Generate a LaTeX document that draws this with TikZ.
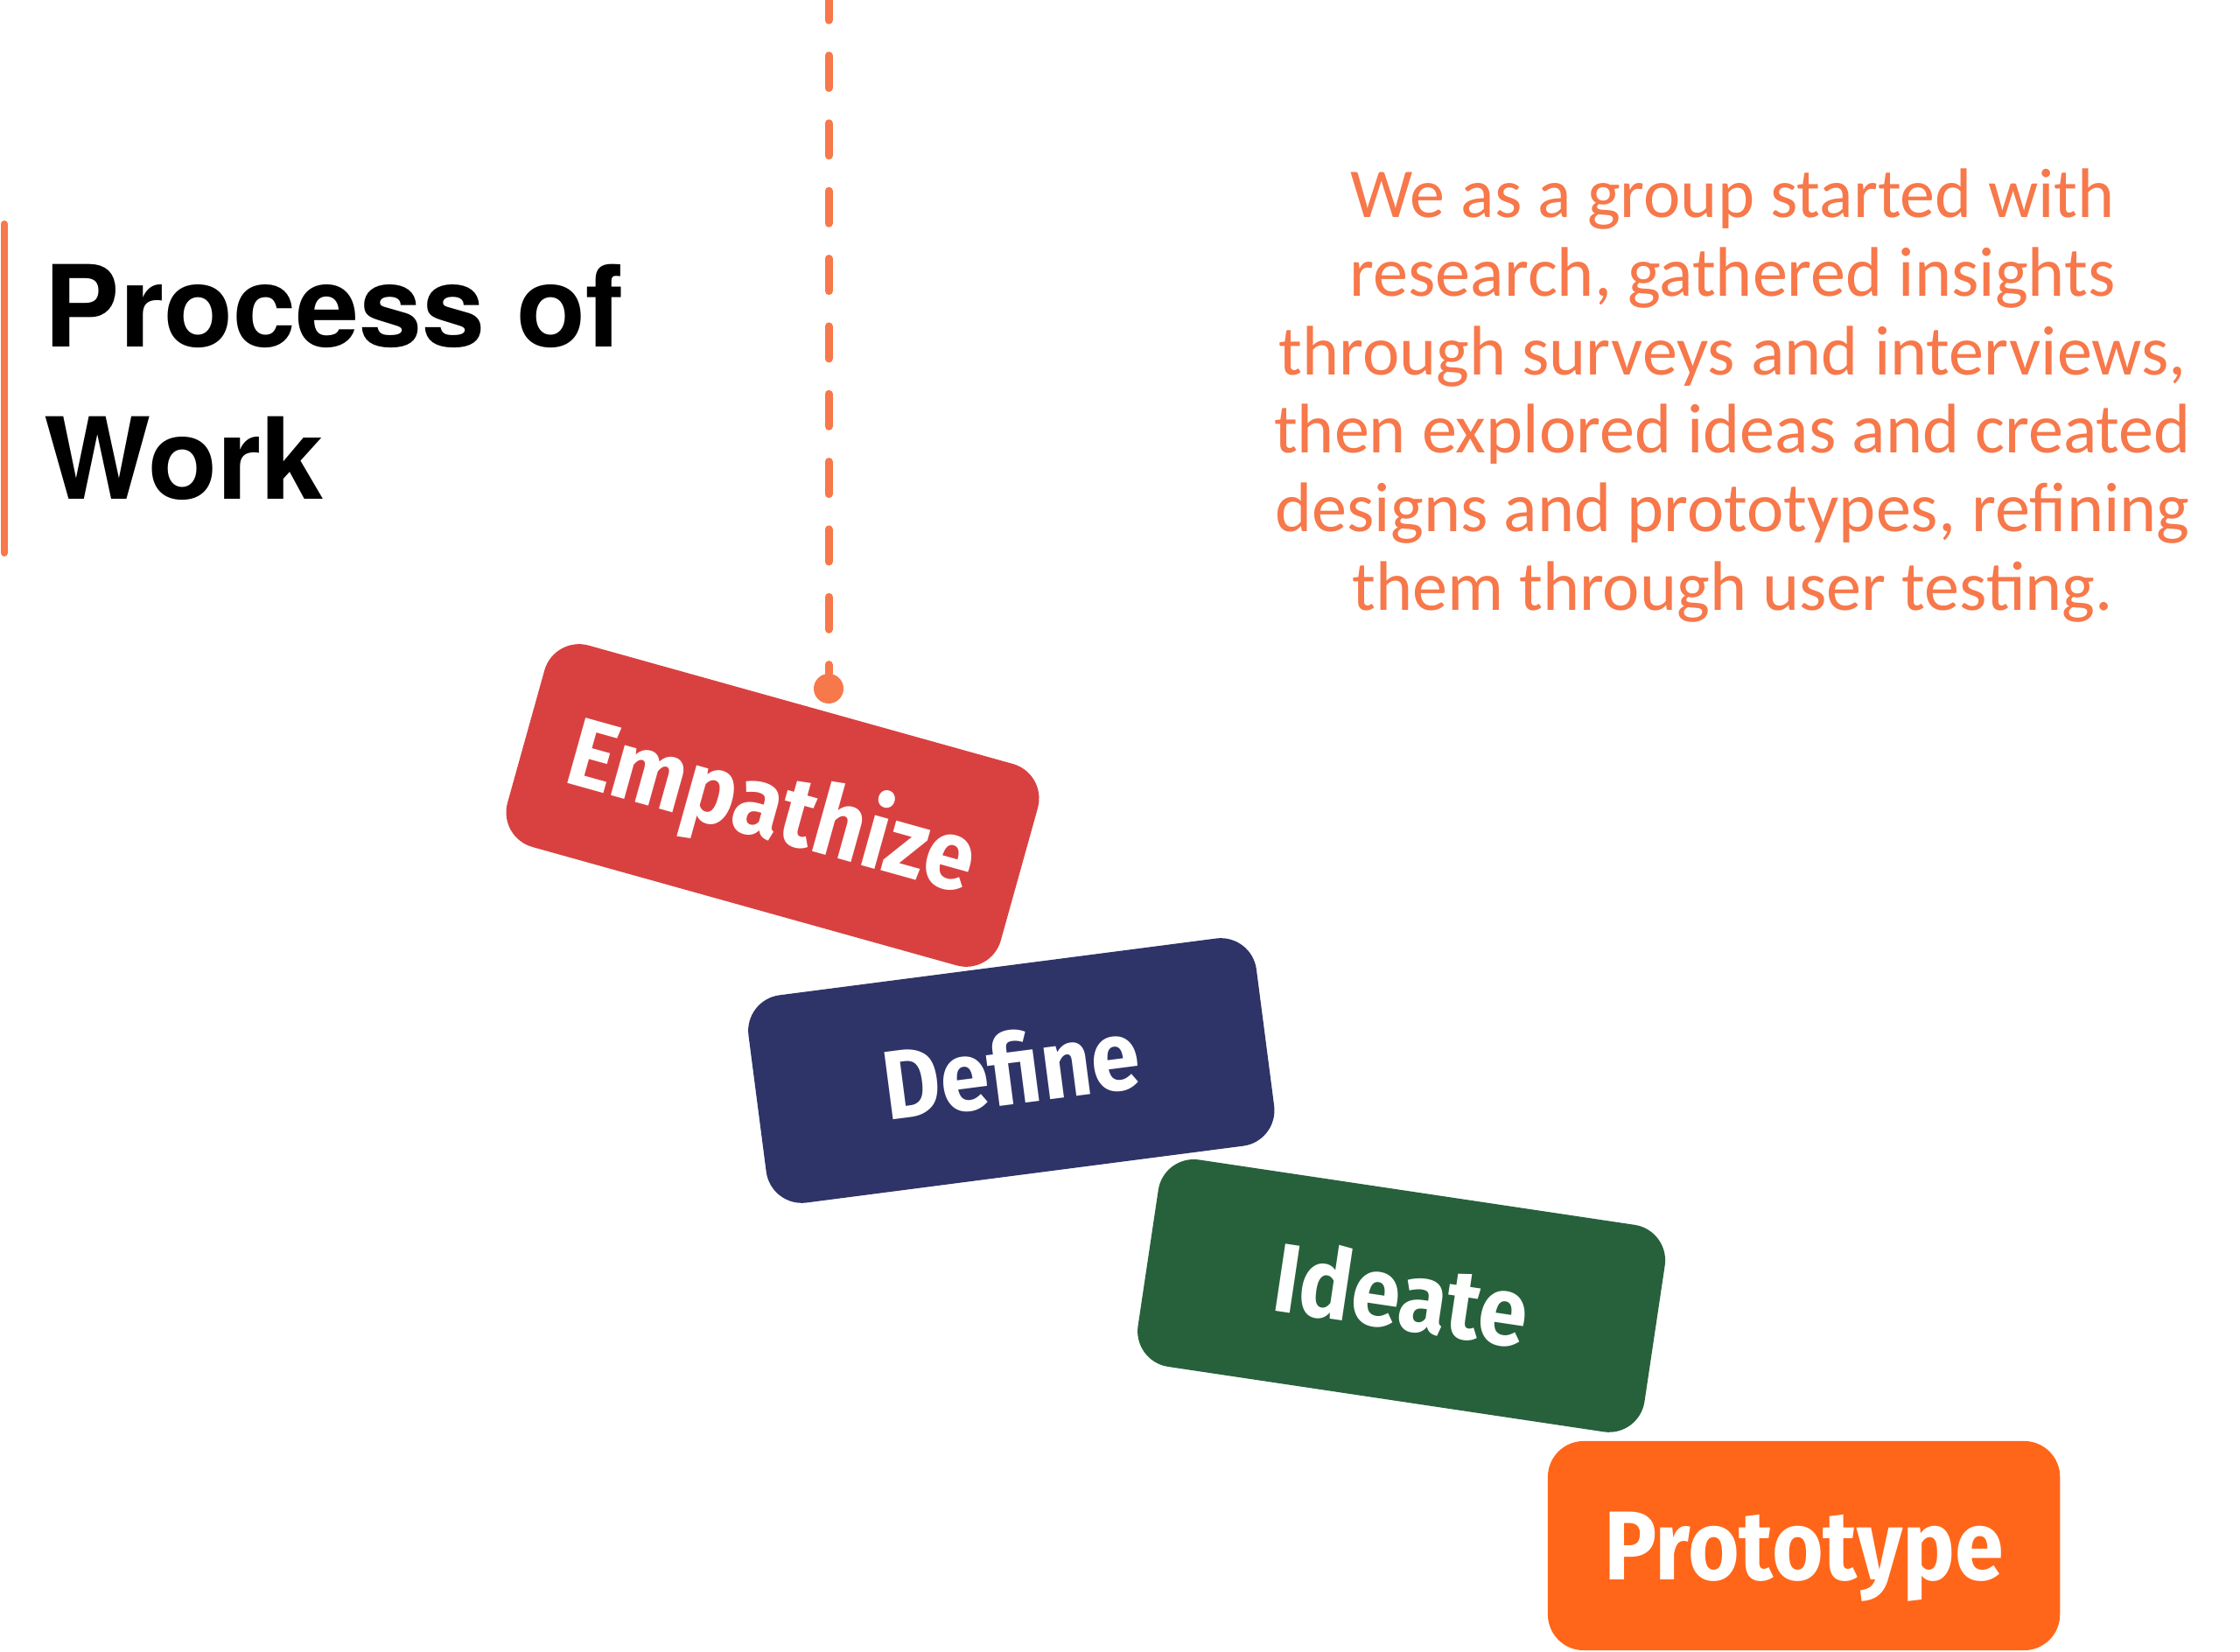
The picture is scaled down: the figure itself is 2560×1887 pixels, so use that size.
\documentclass[tikz,border=0pt]{standalone}
\usepackage{fontspec}
\setmainfont{Carlito}
\newfontfamily\headfont{TeX Gyre Heros}
\newfontfamily\boxfont[FakeStretch=0.9]{Fira Sans}
\definecolor{hotline}{HTML}{F7784A}
\definecolor{empred}{HTML}{D94141}
\definecolor{defblue}{HTML}{2E3468}
\definecolor{idegreen}{HTML}{27613C}
\definecolor{proorange}{HTML}{FF6619}

\begin{document}
\begin{tikzpicture}[x=0.01cm, y=0.01cm,
  stage/.style={rectangle, rounded corners=0.41cm, minimum width=5.85cm, minimum height=2.39cm, inner sep=0pt, text=white, text height=0.77cm, text depth=0pt, font=\boxfont\bfseries\fontsize{31.8pt}{38pt}\selectfont}]
\useasboundingbox (0,0) rectangle (2560,1887);
% heading and side bar
\draw[hotline, line width=0.08cm, line cap=round] (5,1631) -- (5,1255);
\node[anchor=north west, inner sep=0pt, align=left, font=\headfont\bfseries\fontsize{36.8pt}{49.5pt}\selectfont] (t1) at (50,1586) {Process of\\Work};
% note on the right
\node[inner sep=0pt, align=center, text=hotline, font=\fontsize{22.8pt}{25.5pt}\selectfont] (p1) at (1980,1435) {We as a group started with\\research, gathered insights\\through surveys and interviews,\\then explored ideas and created\\designs and prototypes, refining\\them through user testing.};
% the four stages
\node[stage, fill=empred, rotate=-15.6] (s1) at (883,966.5) {Empathize};
\node[stage, fill=defblue, rotate=7.4] (s2) at (1155.8,663.5) {Define};
\node[stage, fill=idegreen, rotate=-8.5] (s3) at (1601.6,406.1) {Ideate};
\node[stage, fill=proorange] (s4) at (2061.6,120.5) {Prototype};
% hanging string
\coordinate (h0) at (947,1900.8);
\node[circle, fill=hotline, minimum size=0.34cm, inner sep=0pt] (h1) at (947,1100) {};
\draw[hotline, line width=0.09cm, line cap=round, dash pattern=on 0.37cm off 0.403cm] (h0) -- (h1);
\end{tikzpicture}
\end{document}
